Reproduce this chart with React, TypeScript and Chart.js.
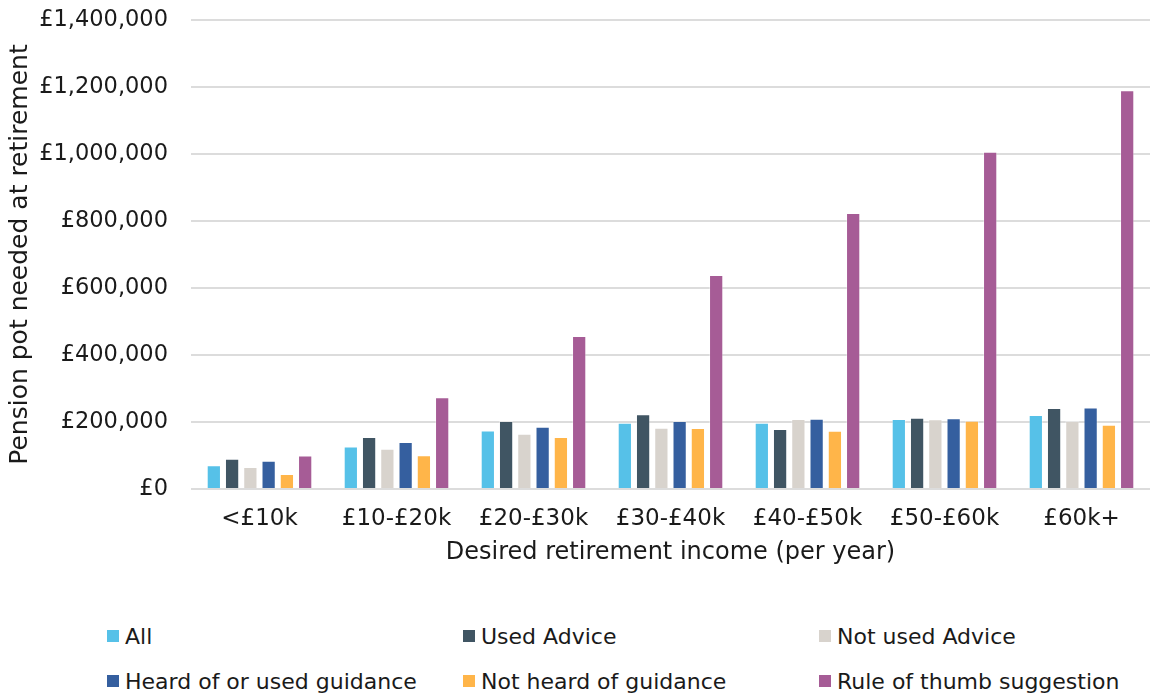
import React, { useEffect, useRef } from "react";
import { Chart, registerables } from "chart.js";

Chart.register(...registerables);

const categories = ["<£10k", "£10-£20k", "£20-£30k", "£30-£40k", "£40-£50k", "£50-£60k", "£60k+"];

const allValues = [71000, 127000, 175000, 198000, 198000, 209000, 221000];
const usedAdvice = [90000, 155000, 203000, 223000, 179000, 213000, 242000];
const notUsedAdvice = [66000, 120000, 165000, 183000, 209000, 208000, 203000];
const heardGuidance = [84000, 140000, 186000, 203000, 210000, 211000, 243000];
const notHeardGuidance = [45000, 101000, 155000, 182000, 174000, 204000, 192000];
const ruleOfThumb = [100000, 274000, 457000, 639000, 824000, 1007000, 1190000];

const seriesNames = [
  "All",
  "Used Advice",
  "Not used Advice",
  "Heard of or used guidance",
  "Not heard of guidance",
  "Rule of thumb suggestion",
];
const seriesColors = ["#56C1E8", "#405563", "#D8D3CD", "#355F9F", "#FFB549", "#A65C96"];
const seriesData = [allValues, usedAdvice, notUsedAdvice, heardGuidance, notHeardGuidance, ruleOfThumb];

const yTicks = [0, 200000, 400000, 600000, 800000, 1000000, 1200000, 1400000];

const FONT = "'DejaVu Sans', sans-serif";
const TEXT = "#1a1a1a";

const legendCols = [107, 463, 819];
const legendRows = [636, 681];

export default function App() {
  const ref = useRef<HTMLCanvasElement | null>(null);

  useEffect(() => {
    if (!ref.current) return;
    const chart = new Chart(ref.current, {
      type: "bar",
      data: {
        labels: categories,
        datasets: seriesNames.map((name, i) => ({
          label: name,
          data: seriesData[i],
          backgroundColor: seriesColors[i],
          borderColor: "rgba(255,255,255,0.35)",
          borderWidth: 1,
          barPercentage: 0.78,
          categoryPercentage: 0.8,
        })),
      },
      options: {
        responsive: false,
        animation: false,
        devicePixelRatio: 1,
        layout: { padding: { top: 20, right: 3, bottom: 0, left: 0 } },
        plugins: {
          legend: { display: false },
          tooltip: { enabled: false },
        },
        scales: {
          x: {
            grid: { display: false, drawTicks: false },
            border: { display: false },
            ticks: {
              color: TEXT,
              font: { family: FONT, size: 23 },
              padding: 16,
              maxRotation: 0,
            },
            title: {
              display: true,
              text: "Desired retirement income (per year)",
              color: TEXT,
              font: { family: FONT, size: 24 },
              padding: { top: 0, bottom: 33 },
            },
            afterFit: (scale: any) => {
              scale.height = 111;
            },
          },
          y: {
            min: 0,
            max: 1400000,
            grid: { color: "#DCDCDC", lineWidth: 2, drawTicks: false },
            border: { display: false },
            afterBuildTicks: (scale: any) => {
              scale.ticks = yTicks.map((v) => ({ value: v }));
            },
            ticks: {
              color: TEXT,
              font: { family: FONT, size: 22.5 },
              padding: 23,
              callback: (v: any) => "£" + Number(v).toLocaleString("en-GB"),
            },
            title: {
              display: true,
              text: "Pension pot needed at retirement",
              color: TEXT,
              font: { family: FONT, size: 25 },
              padding: { top: 5, bottom: 0 },
            },
            afterFit: (scale: any) => {
              scale.width = 191;
              scale.paddingTop = 0;
              scale.paddingBottom = 0;
            },
          },
        },
      },
    });
    return () => chart.destroy();
  }, []);

  return (
    <div style={{ position: "absolute", left: 0, top: 0, width: 1153, height: 697, background: "#fff" }}>
      <canvas ref={ref} width={1153} height={600} style={{ position: "absolute", left: 0, top: 0, width: 1153, height: 600 }} />
      {seriesNames.map((name, i) => {
        const col = i % 3;
        const row = Math.floor(i / 3);
        return (
          <div
            key={name}
            style={{
              position: "absolute",
              left: legendCols[col],
              top: legendRows[row] - 14,
              height: 28,
              display: "flex",
              alignItems: "center",
              fontFamily: FONT,
              fontSize: 22,
              color: TEXT,
              whiteSpace: "nowrap",
            }}
          >
            <span style={{ display: "inline-block", width: 12, height: 12, background: seriesColors[i], marginRight: 6 }} />
            <span>{name}</span>
          </div>
        );
      })}
    </div>
  );
}
